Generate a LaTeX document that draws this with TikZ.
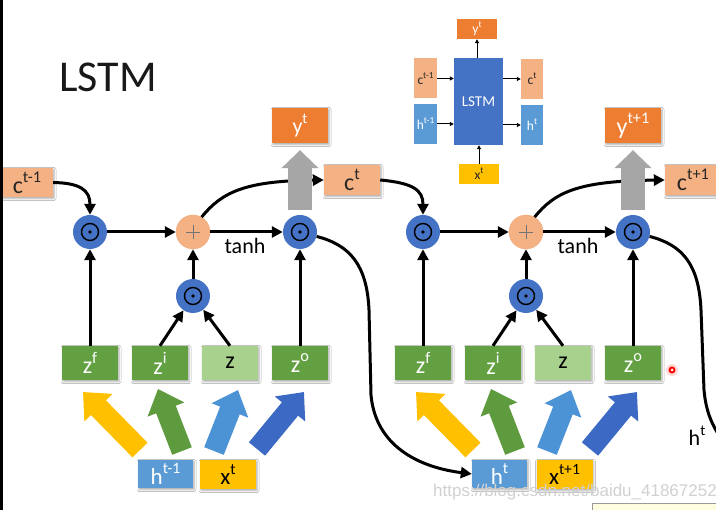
\documentclass[tikz,border=0pt]{standalone}
\usepackage{fontspec}
\setmainfont{Carlito}
\newfontfamily\wmfont{Liberation Sans}
\usetikzlibrary{arrows.meta,shadows.blur}
\newcommand\supx[2]{#1\raisebox{.45em}{\scalebox{.68}{#2}}}
\newcommand\fsz[1]{\fontsize{#1pt}{#1pt}\selectfont}
\definecolor{salm}{HTML}{F4B183}
\definecolor{orng}{HTML}{ED7D31}
\definecolor{grn}{HTML}{62A042}
\definecolor{lgrn}{HTML}{A9D18E}
\definecolor{hblu}{HTML}{5B9BD5}
\definecolor{yel}{HTML}{FFC000}
\definecolor{cblu}{HTML}{4472C4}
\definecolor{dblu}{HTML}{3B69C4}
\definecolor{fgrn}{HTML}{5E9A3E}
\definecolor{fblu}{HTML}{4C93D6}
\definecolor{gray1}{HTML}{A6A6A6}
\begin{document}
\begin{tikzpicture}[x=1pt,y=-1pt,
  shad/.style={blur shadow={shadow xshift=1pt,shadow yshift=-1.5pt,shadow blur radius=2pt,shadow opacity=35}},
  bx/.style={shad,minimum width=56pt,minimum height=34pt,inner sep=0pt,font=\fsz{24}},
  gbox/.style={bx,fill=grn,text=white},
  lgbox/.style={bx,fill=lgrn,text=black},
  hbox/.style={bx,fill=hblu,text=white,minimum width=55pt,minimum height=28pt,font=\fsz{23}},
  xbox/.style={bx,fill=yel,text=black,minimum height=29pt,font=\fsz{23}},
  ybox/.style={bx,fill=orng,text=white,minimum height=35pt},
  salbox/.style={bx,fill=salm,text=black!85,minimum height=30pt},
  gate/.style={circle,fill=cblu,minimum size=34pt,inner sep=0pt},
  ring/.style={draw=black,fill=none,line width=1.4pt},
  plusg/.style={circle,fill=salm,draw=salm!85!orng,minimum size=34pt,inner sep=0pt},
  arr/.style={line width=3pt,-{Triangle[length=11pt,width=11pt]}},
  fat/.style={line width=21pt,-{Triangle[length=22pt,width=38pt]}},
  grayarr/.style={gray1,line width=24pt,-{Triangle[length=18pt,width=36pt]}},
  sbox/.style={inner sep=0pt,font=\fsz{13.5}},
  sarr/.style={line width=1pt,-{Triangle[length=4pt,width=4pt]}}
]
\useasboundingbox (0,0) rectangle (716,510);
\clip (0,0) rectangle (716,510);
\fill[white] (0,0) rectangle (716,510);

% title
\node[font=\fsz{44},text=black!90] (title) at (108,77) {LSTM};

% ---------- cell 1 ----------
\node[salbox,minimum width=52pt,minimum height=29pt] (cprev) at (27,182.5) {\supx{c}{t-1}};
\node[gate] (m1) at (90,232) {};
\node[plusg] (p1) at (193,232) {};
\node[gate] (o1) at (300,232) {};
\node[gate] (i1) at (193,296) {};
\node[gbox] (zf1) at (90,363) {\supx{z}{f}};
\node[gbox] (zi1) at (160,363) {\supx{z}{i}};
\node[lgbox] (z1) at (230,363) {z};
\node[gbox] (zo1) at (300,363) {\supx{z}{o}};
\node[hbox] (hp) at (165.5,474) {\supx{h}{t-1}};
\node[xbox] (x1) at (228,474.5) {\supx{x}{t}};
\node[ybox,font=\fsz{22}] (y1) at (300,125.5) {\supx{y}{t}};
\node[salbox] (ct) at (352,180) {\supx{c}{t}};

\coordinate (a1t) at (140,450); \coordinate (a1h) at (83,392);
\coordinate (b1t) at (182,451); \coordinate (b1h) at (158,389);
\coordinate (c1t) at (214,451); \coordinate (c1h) at (238,390);
\coordinate (d1t) at (257,449); \coordinate (d1h) at (304,392);
\draw[fat,yel] (a1t) -- (a1h);
\draw[fat,fgrn] (b1t) -- (b1h);
\draw[fat,fblu] (c1t) -- (c1h);
\draw[fat,dblu] (d1t) -- (d1h);

\draw[arr] (cprev.east) .. controls (80,183) and (90,190) .. (m1.north);
\draw[arr] (m1) -- (p1);
\draw[arr] (p1) -- (o1);
\node[font=\fsz{22}] (tanh1) at (245,246) {tanh};
\draw[arr] (zf1.north) -- (m1.south);
\draw[arr] (zi1.north) -- (i1);
\draw[arr] (z1.north) -- (i1);
\draw[arr] (i1) -- (p1);
\draw[arr] (zo1.north) -- (o1.south);
\draw[arr] (p1.60) .. controls (222,192) and (245,181) .. (ct.west);
\draw[grayarr] ([yshift=5pt]o1.north) -- ([yshift=-7pt]y1.south);

% ---------- cell 2 ----------
\node[gate] (m2) at (423,232) {};
\node[plusg] (p2) at (526,232) {};
\node[gate] (o2) at (633,232) {};
\node[gate] (i2) at (526,296) {};
\node[gbox] (zf2) at (423,363) {\supx{z}{f}};
\node[gbox] (zi2) at (493,363) {\supx{z}{i}};
\node[lgbox] (z2) at (563,363) {z};
\node[gbox] (zo2) at (633,363) {\supx{z}{o}};
\node[hbox] (h2) at (499.5,474) {\supx{h}{t}};
\node[xbox] (x2) at (564.5,474.5) {\supx{x}{t+1}};
\node[ybox] (y2) at (633,125.5) {\supx{y}{t+1}};
\node[salbox] (ct1) at (693,180) {\supx{c}{t+1}};

\coordinate (a2t) at (473,450); \coordinate (a2h) at (416,392);
\coordinate (b2t) at (515,451); \coordinate (b2h) at (491,389);
\coordinate (c2t) at (547,451); \coordinate (c2h) at (571,390);
\coordinate (d2t) at (590,449); \coordinate (d2h) at (637,392);
\draw[fat,yel] (a2t) -- (a2h);
\draw[fat,fgrn] (b2t) -- (b2h);
\draw[fat,fblu] (c2t) -- (c2h);
\draw[fat,dblu] (d2t) -- (d2h);

\draw[arr] (ct.east) .. controls (413,183) and (423,190) .. (m2.north);
\draw[arr] (m2) -- (p2);
\draw[arr] (p2) -- (o2);
\node[font=\fsz{22}] (tanh2) at (578,246) {tanh};
\draw[arr] (zf2.north) -- (m2.south);
\draw[arr] (zi2.north) -- (i2);
\draw[arr] (z2.north) -- (i2);
\draw[arr] (i2) -- (p2);
\draw[arr] (zo2.north) -- (o2.south);
\draw[arr] (p2.60) .. controls (555,192) and (578,181) .. (ct1.west);
\draw[grayarr] ([yshift=5pt]o2.north) -- ([yshift=-7pt]y2.south);

% gate symbols
\foreach \g in {m1,o1,i1,m2,o2,i2} {
  \draw[ring] (\g.center) circle (8.5pt);
  \fill[black] (\g.center) circle (1.9pt);
}
\foreach \g in {p1,p2} {
  \draw[black!55,line width=0.8pt] ([xshift=-7pt]\g.center) -- ([xshift=7pt]\g.center)
     ([yshift=-7pt]\g.center) -- ([yshift=7pt]\g.center);
}

% h curves
\draw[arr] (o1.-15) .. controls (350,245) and (367,265) .. (369,310) -- (371,395)
   .. controls (375,440) and (410,466) .. (h2.west);
\coordinate (hout) at (722,440);
\draw[line width=3pt] (o2.-15) .. controls (683,245) and (699,265) .. (701,310) -- (704,390)
   .. controls (706,412) and (712,425) .. (hout);
\node[font=\fsz{22}] (htlab) at (697,436) {\supx{h}{t}};

% ---------- inset ----------
\node[sbox,fill=orng,text=white,minimum width=40pt,minimum height=20pt] (ys) at (477,29) {\supx{y}{t}};
\node[sbox,fill=cblu,text=white,minimum width=49pt,minimum height=87pt,font=\fsz{15}] (L) at (478.5,101.5) {LSTM};
\node[sbox,fill=salm,text=black!85,minimum width=23pt,minimum height=40pt] (cs1) at (425.5,78.5) {\supx{c}{t-1}};
\node[sbox,fill=hblu,text=white,minimum width=23pt,minimum height=40pt] (hs1) at (425.5,124) {\supx{h}{t-1}};
\node[sbox,fill=salm,text=black!85,minimum width=22pt,minimum height=40pt] (cs2) at (532,79) {\supx{c}{t}};
\node[sbox,fill=hblu,text=white,minimum width=22pt,minimum height=40pt] (hs2) at (532,125) {\supx{h}{t}};
\node[sbox,fill=yel,text=black!85,minimum width=40pt,minimum height=20pt] (xs) at (479,174) {\supx{x}{t}};
\draw[sarr] (cs1.east) -- (cs1.east -| L.west);
\draw[sarr] (hs1.east) -- (hs1.east -| L.west);
\draw[sarr] (cs2.west -| L.east) -- (cs2.west);
\draw[sarr] (hs2.west -| L.east) -- (hs2.west);
\draw[sarr] (ys.south |- L.north) -- (ys.south);
\draw[sarr] (xs.north) -- (xs.north |- L.south);

% pointer dot
\fill[red!25,opacity=0.6] (672,370) circle (6pt);
\fill[red] (672,370) circle (3.5pt);
\fill[white] (672,370) circle (1.5pt);

% watermark and bottom-right box
\node[font=\wmfont\fsz{17},text=black!18] (wm) at (575,492) {https://blog.csdn.net/baidu\_41867252};
\draw[fill=yellow!12,draw=black!40] (592,503.5) rectangle (720,515);

% left strip
\fill[black] (0,0) rectangle (3,510);
\end{tikzpicture}
\end{document}
